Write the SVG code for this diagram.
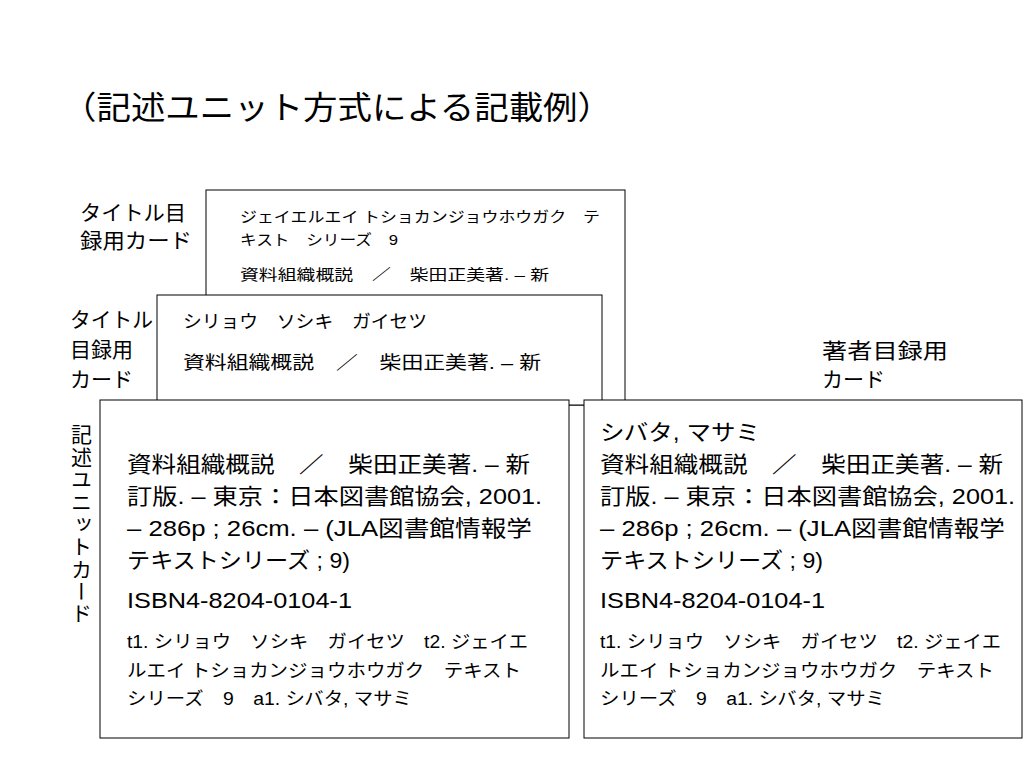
<svg xmlns="http://www.w3.org/2000/svg" width="1024" height="768" viewBox="0 0 1024 768">
<style>
text{font-family:"Liberation Sans","Noto Sans CJK JP",sans-serif;fill:#000}
.card{fill:#fff;stroke:#000;stroke-width:1}
.lbl{font-size:21px}
.m{font-size:22px}
.s{font-size:18px}
</style>
<rect width="1024" height="768" fill="#fff"/>
<text x="62" y="119" font-size="32" textLength="550" lengthAdjust="spacingAndGlyphs">（記述ユニット方式による記載例）</text>
<g id="lbl-title1"><text class="lbl" x="80" y="220" textLength="106" lengthAdjust="spacingAndGlyphs">タイトル目</text><text class="lbl" x="80" y="248" textLength="112" lengthAdjust="spacingAndGlyphs">録用カード</text></g>
<g id="lbl-title2"><text class="lbl" x="70" y="327" textLength="83" lengthAdjust="spacingAndGlyphs">タイトル</text><text class="lbl" x="70" y="357">目録用</text><text class="lbl" x="70" y="387">カード</text></g>
<g id="lbl-author"><text class="lbl" x="822" y="358" textLength="126" lengthAdjust="spacingAndGlyphs">著者目録用</text><text class="lbl" x="822" y="387">カード</text></g>
<g id="lbl-unit"><text class="lbl" x="80" y="424" writing-mode="vertical-rl" textLength="200" lengthAdjust="spacing">記述ユニットカード</text></g>
<g id="card-back">
<rect class="card" x="206" y="190" width="419" height="215"/>
<text x="240" y="222" font-size="15" textLength="360" lengthAdjust="spacingAndGlyphs">ジェイエルエイ トショカンジョウホウガク　テ</text>
<text x="240" y="245" font-size="15" textLength="158" lengthAdjust="spacingAndGlyphs">キスト　シリーズ　9</text>
<text x="240" y="280" font-size="15" textLength="309" lengthAdjust="spacingAndGlyphs">資料組織概説　／　柴田正美著. – 新</text>
</g>
<g id="card-mid">
<rect class="card" x="157" y="295" width="445" height="110"/>
<text x="183" y="328" font-size="18" textLength="244" lengthAdjust="spacingAndGlyphs">シリョウ　ソシキ　ガイセツ</text>
<text x="183" y="369" font-size="18" textLength="358" lengthAdjust="spacingAndGlyphs">資料組織概説　／　柴田正美著. – 新</text>
</g>
<g id="card-unit">
<rect class="card" x="100" y="400" width="469" height="338"/>
<text class="m" x="127" y="472" textLength="403" lengthAdjust="spacingAndGlyphs">資料組織概説　／　柴田正美著. – 新</text>
<text class="m" x="127" y="504" textLength="415" lengthAdjust="spacingAndGlyphs">訂版. – 東京：日本図書館協会, 2001.</text>
<text class="m" x="127" y="536" textLength="405" lengthAdjust="spacingAndGlyphs">– 286p ; 26cm. – (JLA図書館情報学</text>
<text class="m" x="127" y="568" textLength="223" lengthAdjust="spacingAndGlyphs">テキストシリーズ ; 9)</text>
<text class="m" x="127" y="608" textLength="225" lengthAdjust="spacingAndGlyphs">ISBN4-8204-0104-1</text>
<text class="s" x="127" y="648" textLength="401" lengthAdjust="spacingAndGlyphs">t1. シリョウ　ソシキ　ガイセツ　t2. ジェイエ</text>
<text class="s" x="127" y="677" textLength="394" lengthAdjust="spacingAndGlyphs">ルエイ トショカンジョウホウガク　テキスト</text>
<text class="s" x="127" y="705" textLength="285" lengthAdjust="spacingAndGlyphs">シリーズ　9　a1. シバタ, マサミ</text>
</g>
<g id="card-author">
<rect class="card" x="584" y="400" width="438" height="338"/>
<text class="m" x="600" y="440" textLength="160" lengthAdjust="spacingAndGlyphs">シバタ, マサミ</text>
<text class="m" x="600" y="472" textLength="403" lengthAdjust="spacingAndGlyphs">資料組織概説　／　柴田正美著. – 新</text>
<text class="m" x="600" y="504" textLength="415" lengthAdjust="spacingAndGlyphs">訂版. – 東京：日本図書館協会, 2001.</text>
<text class="m" x="600" y="536" textLength="405" lengthAdjust="spacingAndGlyphs">– 286p ; 26cm. – (JLA図書館情報学</text>
<text class="m" x="600" y="568" textLength="223" lengthAdjust="spacingAndGlyphs">テキストシリーズ ; 9)</text>
<text class="m" x="600" y="608" textLength="225" lengthAdjust="spacingAndGlyphs">ISBN4-8204-0104-1</text>
<text class="s" x="600" y="648" textLength="401" lengthAdjust="spacingAndGlyphs">t1. シリョウ　ソシキ　ガイセツ　t2. ジェイエ</text>
<text class="s" x="600" y="677" textLength="394" lengthAdjust="spacingAndGlyphs">ルエイ トショカンジョウホウガク　テキスト</text>
<text class="s" x="600" y="705" textLength="285" lengthAdjust="spacingAndGlyphs">シリーズ　9　a1. シバタ, マサミ</text>
</g>
<g id="connectors"></g>
</svg>
